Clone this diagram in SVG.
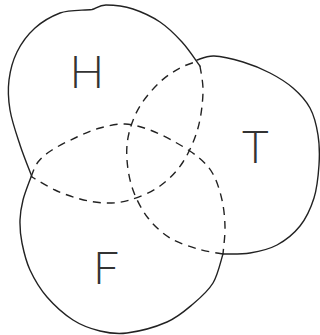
<svg xmlns="http://www.w3.org/2000/svg" width="320" height="335" viewBox="0 0 320 335">
<style>
.solid{fill:none;stroke:#222;stroke-width:1.4;stroke-linecap:round}
.dash{fill:none;stroke:#222;stroke-width:1.4;stroke-dasharray:8 6}
.lbl{font-family:Lato,"Open Sans","DejaVu Sans",sans-serif;font-weight:300;font-size:46px;fill:#333}
</style>
<rect width="320" height="335" fill="#fff"/>
<g id="H">
<path class="solid" d="M32,177 C30,171.7 23.7,156.2 20,145 C16.3,133.8 11.8,120.8 10,110 C8.2,99.2 7.8,89.7 9,80 C10.2,70.3 12.7,60.7 17,52 C21.3,43.3 27.8,34.5 35,28 C42.2,21.5 51.5,16.3 60,13 C68.5,9.7 82,10.5 92,9.5 C96,8.5 99,5 106,5 C113.8,5 124,6 133,9 C142,12 151.8,16.5 160,22 C168.2,27.5 175.3,34.7 182,42 C188.7,49.3 197,62 200,66"/>
<path class="dash" d="M200,66 C200.5,70.3 203.3,81.7 203,92 C202.7,102.3 201.3,116.3 198,128 C194.7,139.7 189.3,152.3 183,162 C176.7,171.7 168.8,179.7 160,186 C151.2,192.3 139.2,197.2 130,200 C120.8,202.8 113.3,203.2 105,203 C96.7,202.8 88.3,201.2 80,199 C71.7,196.8 63,193.7 55,190 C47,186.3 35.8,179.2 32,177"/>
<text class="lbl" x="69.5" y="88">H</text>
</g>
<g id="T">
<path class="solid" d="M197,60 C199.8,59.3 206.3,55.7 214,56 C221.7,56.3 233.7,59.2 243,62 C252.3,64.8 261.7,68.7 270,73 C278.3,77.3 286.3,82.2 293,88 C299.7,93.8 305.8,100.2 310,108 C314.2,115.8 316.5,125.5 318,135 C319.5,144.5 319.7,154.5 319,165 C318.3,175.5 317.2,187.8 314,198 C310.8,208.2 306.2,218.2 300,226 C293.8,233.8 285.3,240.5 277,245 C268.7,249.5 259,251.5 250,253 C241,254.5 227.5,253.8 223,254"/>
<path class="dash" d="M223,254 C218.8,253.2 206.8,251.7 198,249 C189.2,246.3 178.3,243.2 170,238 C161.7,232.8 154.2,226 148,218 C141.8,210 136.5,199.7 133,190 C129.5,180.3 127.7,169.5 127,160 C126.3,150.5 126.8,142 129,133 C131.2,124 134.8,114.5 140,106 C145.2,97.5 153.3,88.3 160,82 C166.7,75.7 173.7,71.5 180,68 C186.3,64.5 195,62.2 198,61"/>
<text class="lbl" x="242" y="163">T</text>
</g>
<g id="F">
<path class="solid" d="M223,254 C221.3,258.8 218,274.7 213,283 C208,291.3 200.7,297.5 193,304 C185.3,310.5 178,317.2 167,322 C156,326.8 138.2,331.5 127,333 C115.8,334.5 109,333.2 100,331 C91,328.8 81.8,325.7 73,320 C64.2,314.3 54.2,305.3 47,297 C39.8,288.7 34.2,279 30,270 C25.8,261 23.7,251.3 22,243 C20.3,234.7 19.8,227.2 20,220 C20.2,212.8 21.2,207.2 23,200 C24.8,192.8 29.7,180.8 31,177"/>
<path class="dash" d="M31,177 C32.2,174.5 34.5,166.5 38,162 C41.5,157.5 45.5,154.2 52,150 C58.5,145.8 69,140.7 77,137 C85,133.3 92,130.2 100,128 C108,125.8 116.7,123.7 125,124 C133.3,124.3 141.7,127 150,130 C158.3,133 167,137.5 175,142 C183,146.5 191.7,151.7 198,157 C204.3,162.3 209,166.8 213,174 C217,181.2 220,191.2 222,200 C224,208.8 224.8,218 225,227 C225.2,236 223.3,249.5 223,254"/>
<text class="lbl" x="93" y="284">F</text>
</g>
<g id="connectors"/>
</svg>
